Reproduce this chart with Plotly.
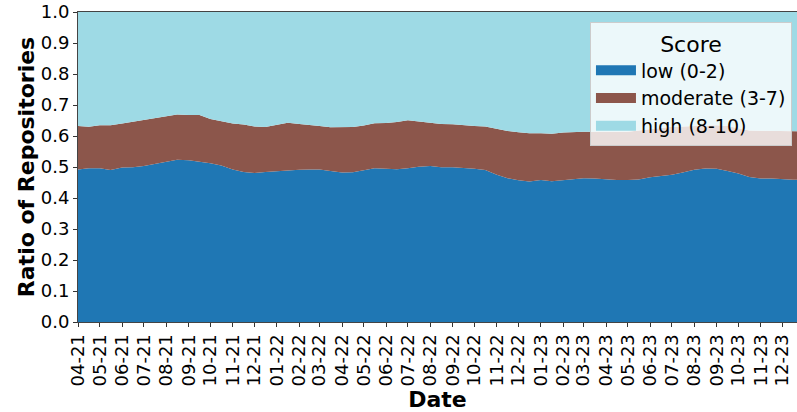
import pandas as pd
import plotly.graph_objects as go

# =========================
# DATA (half-month samples)
# =========================
DATES = [
    "2021-04-01", "2021-04-16", "2021-05-01", "2021-05-16", "2021-06-01", "2021-06-16",
    "2021-07-01", "2021-07-16", "2021-08-01", "2021-08-16", "2021-09-01", "2021-09-16",
    "2021-10-01", "2021-10-16", "2021-11-01", "2021-11-16", "2021-12-01", "2021-12-16",
    "2022-01-01", "2022-01-16", "2022-02-01", "2022-02-16", "2022-03-01", "2022-03-16",
    "2022-04-01", "2022-04-16", "2022-05-01", "2022-05-16", "2022-06-01", "2022-06-16",
    "2022-07-01", "2022-07-16", "2022-08-01", "2022-08-16", "2022-09-01", "2022-09-16",
    "2022-10-01", "2022-10-16", "2022-11-01", "2022-11-16", "2022-12-01", "2022-12-16",
    "2023-01-01", "2023-01-16", "2023-02-01", "2023-02-16", "2023-03-01", "2023-03-16",
    "2023-04-01", "2023-04-16", "2023-05-01", "2023-05-16", "2023-06-01", "2023-06-16",
    "2023-07-01", "2023-07-16", "2023-08-01", "2023-08-16", "2023-09-01", "2023-09-16",
    "2023-10-01", "2023-10-16", "2023-11-01", "2023-11-16", "2023-12-01", "2023-12-16",
    "2024-01-01",
]

# cumulative top of the "low" band
LOW_TOP = [
    0.492, 0.496, 0.496, 0.490, 0.498, 0.499,
    0.503, 0.510, 0.517, 0.523, 0.522, 0.518,
    0.512, 0.505, 0.492, 0.484, 0.481, 0.484,
    0.487, 0.490, 0.491, 0.492, 0.492, 0.487,
    0.482, 0.483, 0.489, 0.496, 0.494, 0.493,
    0.496, 0.501, 0.503, 0.499, 0.499, 0.497,
    0.494, 0.490, 0.475, 0.464, 0.457, 0.453,
    0.458, 0.454, 0.458, 0.461, 0.464, 0.463,
    0.460, 0.458, 0.458, 0.460, 0.467, 0.471,
    0.475, 0.482, 0.491, 0.495, 0.494, 0.487,
    0.479, 0.468, 0.463, 0.463, 0.460, 0.459,
    0.458,
]

# cumulative top of the "moderate" band
MOD_TOP = [
    0.632, 0.630, 0.635, 0.635, 0.640, 0.646,
    0.652, 0.658, 0.664, 0.669, 0.668, 0.668,
    0.655, 0.647, 0.640, 0.637, 0.631, 0.629,
    0.635, 0.643, 0.639, 0.634, 0.632, 0.628,
    0.628, 0.629, 0.634, 0.641, 0.642, 0.645,
    0.651, 0.647, 0.643, 0.639, 0.638, 0.634,
    0.632, 0.631, 0.623, 0.616, 0.612, 0.609,
    0.609, 0.607, 0.611, 0.613, 0.614, 0.614,
    0.614, 0.615, 0.614, 0.618, 0.622, 0.626,
    0.630, 0.631, 0.633, 0.635, 0.635, 0.632,
    0.624, 0.618, 0.617, 0.617, 0.617, 0.615,
    0.615,
]

SERIES = ["low (0-2)", "moderate (3-7)", "high (8-10)"]
COLORS = ["#1f77b4", "#8c564b", "#9edae5"]

TICK_DATES = pd.date_range("2021-04-01", "2023-12-01", freq="MS")
TICK_TEXT = [d.strftime("%m-%y") for d in TICK_DATES]

# =========================
# RATIOS PER SCORE BAND
# =========================
df = pd.DataFrame({"date": pd.to_datetime(DATES), "low_top": LOW_TOP, "mod_top": MOD_TOP})
df["low"] = df["low_top"]
df["moderate"] = df["mod_top"] - df["low_top"]
df["high"] = 1 - df["mod_top"]

fig = go.Figure()
for name, col, color in zip(SERIES, ["low", "moderate", "high"], COLORS):
    fig.add_trace(go.Scatter(
        x=df["date"], y=df[col], name=name,
        mode="lines", stackgroup="one",
        line=dict(width=0, color=color),
        fillcolor=color, showlegend=False,
    ))

# legend entries: thick swatches like matplotlib patches
for name, color in zip(SERIES, COLORS):
    fig.add_trace(go.Scatter(
        x=[None], y=[None], name=name, mode="lines",
        line=dict(width=14, color=color),
    ))

FONT = "DejaVu Sans"

fig.update_layout(
    width=797, height=412,
    margin=dict(l=78, r=0, t=12, b=90, autoexpand=False),
    paper_bgcolor="white", plot_bgcolor="white",
    font=dict(family=FONT, size=18, color="black"),
    showlegend=True,
    legend=dict(
        title=dict(text="Score", side="top center", font=dict(size=22)),
        font=dict(size=19),
        traceorder="normal",
        x=0.993, xanchor="right", y=0.968, yanchor="top",
        bgcolor="rgba(255,255,255,0.8)",
        bordercolor="#cccccc", borderwidth=1,
        itemwidth=40, tracegroupgap=0,
    ),
)

fig.update_xaxes(
    range=["2021-04-01", "2023-12-21"],
    tickmode="array", tickvals=TICK_DATES, ticktext=TICK_TEXT,
    tickangle=-90, tickfont=dict(size=18),
    ticks="outside", ticklen=4, tickcolor="#333",
    showgrid=False, zeroline=False, automargin=False,
    showline=True, linecolor="#444", linewidth=1, mirror=True,
    title=dict(text="<b>Date</b>", font=dict(size=22), standoff=4),
)
fig.update_yaxes(
    range=[0, 1], tickmode="array",
    tickvals=[i / 10 for i in range(11)],
    ticktext=[f"{i / 10:.1f}" for i in range(11)],
    ticks="outside", ticklen=4, tickcolor="#333",
    showgrid=False, zeroline=False, automargin=False,
    showline=True, linecolor="#444", linewidth=1, mirror=False,
    title=dict(text="<b>Ratio of Repositories</b>", font=dict(size=22), standoff=0),
)

# page body has a default 8px margin; drop it so the figure sits at the window corner
fig.write_html(
    "out.html",
    config={"displayModeBar": False},
    post_script="document.body.style.margin='0';",
)
